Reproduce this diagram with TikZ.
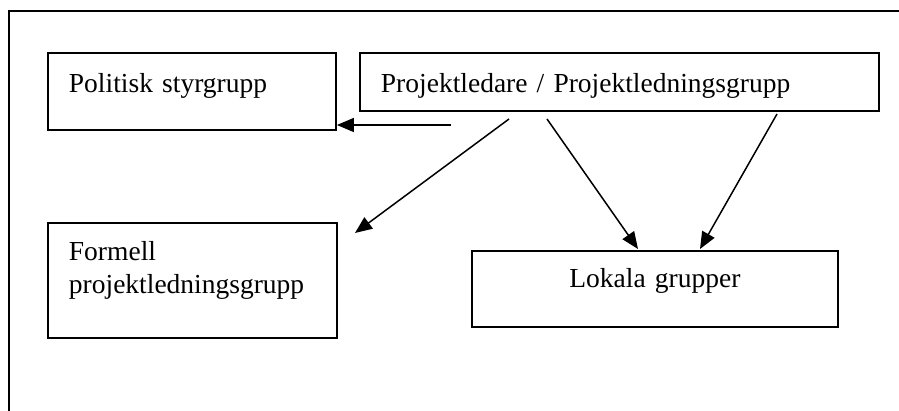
\documentclass[tikz,border=0pt]{standalone}
\usepackage{fontspec}
\setmainfont{Liberation Serif}
\usetikzlibrary{arrows.meta}
\begin{document}
\begin{tikzpicture}[x=1pt,y=-1pt,
  box/.style={draw, line width=1.9pt, inner ysep=0pt, inner xsep=21pt, anchor=north west,
    font=\fontsize{27.5}{33}\selectfont},
  conn/.style={line width=1.5pt, -{Triangle[length=17pt,width=14pt]}},
  frame/.style={line width=1.5pt}]
\useasboundingbox (0,0) rectangle (899,411);
\begin{scope}
\clip (0,0) rectangle (899,411);
\draw[frame] (9,420) -- (9,11) -- (910,11);
\end{scope}
\node[box, text width=246pt, align=left, text height=40pt, text depth=37pt] (pol) at (47,52) {Politisk styrgrupp};
\node[box, text width=477pt, align=left, text height=40pt, text depth=18pt] (proj) at (359,52) {Projektledare / Projektledningsgrupp};
\node[box, text width=247pt, align=left, text height=38pt, text depth=77pt] (form) at (47,222) {Formell\\projektledningsgrupp};
\node[box, text width=324pt, align=center, text height=37pt, text depth=39pt] (lok) at (471,250) {Lokala grupper};
\coordinate (s1) at (451,125);
\coordinate (s2) at (509,119);
\coordinate (s3) at (547,119);
\coordinate (s4) at (777,114);
\coordinate (e2) at (355,233);
\coordinate (e3) at (638,249);
\coordinate (e4) at (700,249);
\draw[conn] (s1) -- (pol.east |- s1);
\draw[conn] (s2) -- (e2);
\draw[conn] (s3) -- (e3);
\draw[conn] (s4) -- (e4);
\end{tikzpicture}
\end{document}
